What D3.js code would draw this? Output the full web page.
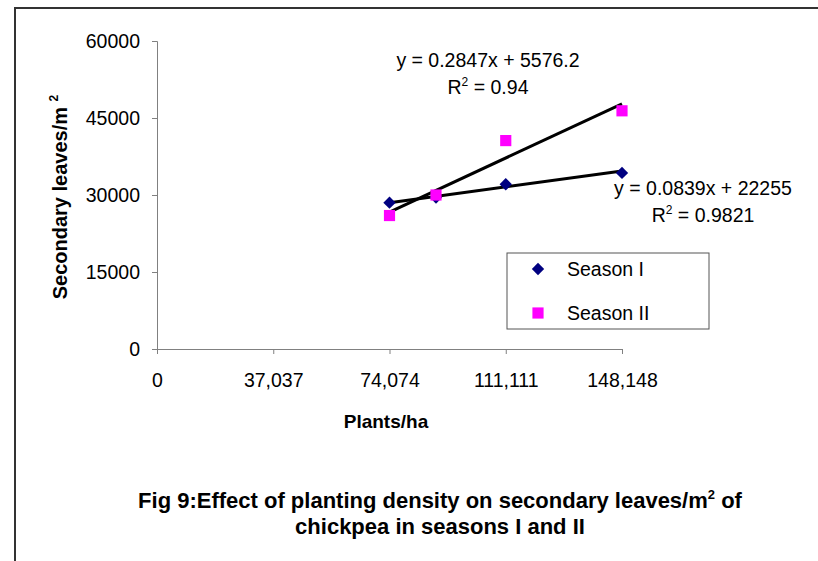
<!DOCTYPE html>
<html>
<head>
<meta charset="utf-8">
<script src="https://cdn.jsdelivr.net/npm/d3@7"></script>
<style>
    body { margin: 0; background: #fff; }
    svg { display: block; font-family: "Liberation Sans", Arial, sans-serif; }
</style>
</head>
<body>
<div class="chart"></div>
<script>
const densities = [74074, 88889, 111111, 148148];
const seasonI = [28500, 29500, 32100, 34300];
const seasonII = [26000, 30000, 40600, 46400];
const xTicks = [0, 37037, 74074, 111111, 148148];
const yTicks = [0, 15000, 30000, 45000, 60000];
const seasons = ['Season I', 'Season II'];
const trendI = [0.0839, 22255, 0.9821];
const trendII = [0.2847, 5576.2, 0.94];

const w = 818;
const h = 561;

const svg = d3.select('.chart').append('svg').attr('width', w).attr('height', h);

// frame of the figure (top and left only are visible)
svg.append('path')
    .attr('d', `M15,${h}V8H${w}`)
    .attr('fill', 'none')
    .attr('stroke', '#333')
    .attr('stroke-width', 2);

const x = d3.scaleLinear().domain([0, 148148]).range([157, 622]);
const y = d3.scaleLinear().domain([0, 60000]).range([349, 41]);

const xAxis = svg.append('g')
    .attr('transform', `translate(0,${y(0)})`)
    .call(d3.axisBottom(x).tickValues(xTicks).tickSize(5).tickPadding(19)
        .tickFormat(d3.format(',')));

const yAxis = svg.append('g')
    .attr('transform', `translate(${x(0)},0)`)
    .call(d3.axisLeft(y).tickValues(yTicks).tickSize(5).tickPadding(12)
        .tickFormat(d3.format('d')));

[xAxis, yAxis].forEach((a) => {
    a.select('.domain').attr('stroke', '#808080');
    a.selectAll('.tick line').attr('stroke', '#808080');
    a.selectAll('.tick text')
        .attr('fill', '#000')
        .style('font-size', '19.5px')
        .style('font-family', '"Liberation Sans", Arial, sans-serif');
});

// trend lines
const trendLine = (coef) => [densities[0], densities[densities.length - 1]]
    .map((d) => [x(d), y(coef[0] * d + coef[1])]);

[trendI, trendII].forEach((coef) => {
    svg.append('path')
        .attr('d', d3.line()(trendLine(coef)))
        .attr('stroke', '#000')
        .attr('stroke-width', 3)
        .attr('fill', 'none');
});

const diamond = d3.symbol().type(d3.symbolSquare).size(76);
const square = d3.symbol().type(d3.symbolSquare).size(125);

svg.append('g')
    .selectAll('path')
    .data(densities)
    .enter()
    .append('path')
    .attr('d', diamond)
    .attr('fill', '#000080')
    .attr('transform', (d, i) => `translate(${x(d)},${y(seasonI[i])}) rotate(45)`);

svg.append('g')
    .selectAll('path')
    .data(densities)
    .enter()
    .append('path')
    .attr('d', square)
    .attr('fill', '#ff00ff')
    .attr('transform', (d, i) => `translate(${x(d)},${y(seasonII[i])})`);

// equations
const eq = (coef, cx, cy) => {
    const g = svg.append('g').attr('font-size', 19.5).attr('text-anchor', 'middle');
    g.append('text')
        .attr('x', cx)
        .attr('y', cy)
        .text(`y = ${coef[0]}x + ${coef[1]}`);
    const r = g.append('text').attr('x', cx).attr('y', cy + 27);
    r.append('tspan').text('R');
    r.append('tspan').attr('font-size', 12).attr('dy', -8).text('2');
    r.append('tspan').attr('dy', 8).text(` = ${coef[2]}`);
};
eq(trendII, 488, 67);
eq(trendI, 703, 195);

// legend
const legend = svg.append('g').attr('transform', 'translate(507,253)');
legend.append('rect')
    .attr('width', 202)
    .attr('height', 76)
    .attr('fill', '#fff')
    .attr('stroke', '#555')
    .attr('stroke-width', 1);

const items = legend.selectAll('.legend')
    .data(seasons)
    .enter()
    .append('g')
    .attr('class', 'legend')
    .attr('transform', (d, i) => `translate(31,${16 + i * 44})`);

items.append('path')
    .attr('d', (d, i) => (i === 0 ? diamond() : square()))
    .attr('fill', (d, i) => (i === 0 ? '#000080' : '#ff00ff'))
    .attr('transform', (d, i) => (i === 0 ? 'rotate(45)' : null));

items.append('text')
    .attr('x', 29)
    .attr('y', 7)
    .attr('font-size', 19.5)
    .text((d) => d);

// axis titles
svg.append('text')
    .attr('x', 386)
    .attr('y', 428)
    .attr('text-anchor', 'middle')
    .attr('font-size', 19)
    .attr('font-weight', 'bold')
    .text('Plants/ha');

const yTitle = svg.append('text')
    .attr('transform', 'translate(67,197) rotate(-90)')
    .attr('text-anchor', 'middle')
    .attr('font-size', 20)
    .attr('font-weight', 'bold');
yTitle.append('tspan').text('Secondary leaves/m ');
yTitle.append('tspan').attr('font-size', 12).attr('dy', -9).text('2');

// figure caption
const caption = svg.append('g')
    .attr('text-anchor', 'middle')
    .attr('font-size', 22)
    .attr('font-weight', 'bold');

const cap1 = caption.append('text').attr('x', 440).attr('y', 508);
cap1.append('tspan').text('Fig 9:Effect of planting density on secondary leaves/m');
cap1.append('tspan').attr('font-size', 13).attr('dy', -9).text('2');
cap1.append('tspan').attr('dy', 9).text(' of');

caption.append('text').attr('x', 440).attr('y', 534).text('chickpea in seasons I and II');
</script>
</body>
</html>
